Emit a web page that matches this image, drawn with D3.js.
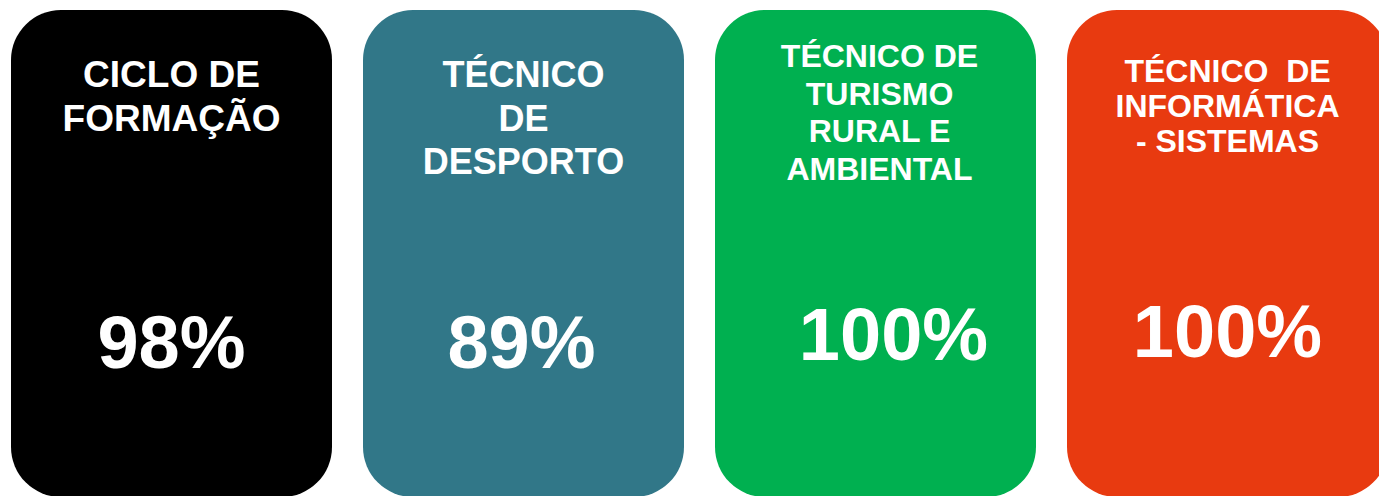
<!DOCTYPE html>
<html>
<head>
<meta charset="utf-8">
<script src="https://cdn.jsdelivr.net/npm/d3@7"></script>
<style>
  html, body { margin: 0; padding: 0; background: #fff; overflow: hidden; }
  svg { display: block; }
  text { font-family: "Liberation Sans", Arial, sans-serif; font-weight: bold; fill: #fff; }
</style>
</head>
<body>
<div id="chart-area"></div>
<script>
// course names (one entry per line) and pass rates
var courses = ["ciclo", "desporto", "turismo", "informatica"];
var titles = [
	["CICLO DE", "FORMAÇÃO"],
	["TÉCNICO", "DE", "DESPORTO"],
	["TÉCNICO DE", "TURISMO", "RURAL E", "AMBIENTAL"],
	["TÉCNICO  DE", "INFORMÁTICA", "- SISTEMAS"]
];
var rates = [98, 89, 100, 100];
var colors = ["#000000", "#317788", "#00b050", "#e83a10"];

// layout, per card
var titleSize = [37, 36, 32, 32],
	titleTop = [87, 87, 67, 82],
	titleGap = [44, 43.5, 37.5, 35],
	rateShift = [0, -2, 18, 0],
	rateBase = [368, 368, 360, 357];

var width = 1379, height = 496;

var svg = d3.select("#chart-area")
	.append("svg")
		.attr("width", width)
		.attr("height", height);

// one band per course: step 352, card width 321
var x = d3.scaleBand()
	.domain(courses)
	.range([11, 11 + 3 * 352 + 321])
	.paddingInner(31 / 352)
	.paddingOuter(0);

var cards = svg.selectAll("g.card")
	.data(courses)
	.enter()
	.append("g")
		.attr("class", "card")
		.attr("transform", function(d){ return "translate(" + x(d) + ", 0)"; });

cards.append("rect")
	.attr("x", 0)
	.attr("y", 10)
	.attr("width", x.bandwidth())
	.attr("height", 487)
	.attr("rx", 50)
	.attr("ry", 50)
	.attr("fill", function(d, i){ return colors[i]; });

cards.each(function(d, i){
	var g = d3.select(this);
	titles[i].forEach(function(line, j){
		g.append("text")
			.attr("x", x.bandwidth() / 2 + (i == 2 ? 4 : 0))
			.attr("y", titleTop[i] + j * titleGap[i])
			.attr("text-anchor", "middle")
			.attr("font-size", titleSize[i])
			.style("white-space", "pre")
			.text(line);
	});

	g.append("text")
		.attr("x", x.bandwidth() / 2 + rateShift[i])
		.attr("y", rateBase[i])
		.attr("text-anchor", "middle")
		.attr("font-size", 74)
		.text(rates[i] + "%");
});
</script>
</body>
</html>
